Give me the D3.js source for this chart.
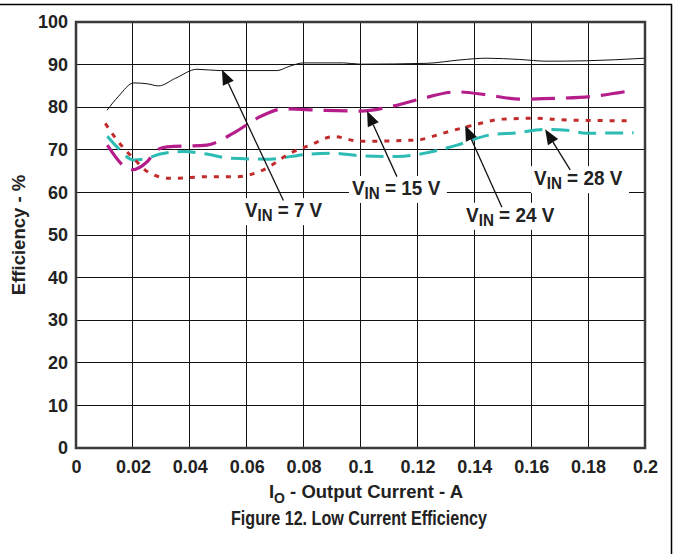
<!DOCTYPE html>
<html>
<head>
<meta charset="utf-8">
<script src="https://cdn.jsdelivr.net/npm/d3@7"></script>
<style>
  body { margin: 0; background: #fff; }
  svg text { font-family: "Liberation Sans", Arial, sans-serif; font-weight: bold; fill: #222; }
</style>
</head>
<body>
<div id="chart"></div>
<script>
// tick values
var xTicks = [0, 0.02, 0.04, 0.06, 0.08, 0.1, 0.12, 0.14, 0.16, 0.18, 0.2];
var yTicks = [0, 10, 20, 30, 40, 50, 60, 70, 80, 90, 100];

// efficiency curves, [current A, efficiency %]
var vin7 = [[0.0109, 79.3], [0.015, 82.6], [0.0203, 85.7], [0.025, 85.5], [0.029, 85.0], [0.035, 86.8],
  [0.0425, 88.9], [0.0507, 88.6], [0.0706, 88.6], [0.075, 89.6], [0.080, 90.4], [0.094, 90.4],
  [0.0999, 90.1], [0.1233, 90.3], [0.135, 91.1], [0.1444, 91.5], [0.156, 91.2], [0.1655, 90.8],
  [0.1795, 90.9], [0.2, 91.5]];
var vin15 = [[0.011, 71.1], [0.0197, 65.3], [0.025, 67.2], [0.0285, 70.0], [0.032, 70.7], [0.046, 71.1],
  [0.0553, 73.9], [0.0648, 77.8], [0.0729, 79.6], [0.0858, 79.3], [0.0999, 79.1], [0.1104, 80.1],
  [0.1198, 81.7], [0.1339, 83.6], [0.1444, 82.9], [0.156, 81.9], [0.1702, 82.1], [0.1807, 82.5],
  [0.196, 84.0]];
var vin24 = [[0.0103, 76.2], [0.0144, 72.3], [0.0202, 68.0], [0.026, 64.5], [0.0331, 63.3], [0.0472, 63.7],
  [0.0566, 63.7], [0.0659, 65.3], [0.0753, 69.2], [0.0823, 71.1], [0.0905, 73.1], [0.0999, 72.0],
  [0.1198, 72.3], [0.129, 73.9], [0.1397, 75.8], [0.150, 77.2], [0.1607, 77.4], [0.1725, 77.0],
  [0.196, 76.8]];
var vin28 = [[0.011, 73.2], [0.0144, 70.7], [0.0202, 67.6], [0.025, 68.0], [0.0296, 69.0], [0.0378, 69.6],
  [0.046, 69.0], [0.0542, 68.0], [0.0683, 67.8], [0.0753, 68.4], [0.0823, 69.0], [0.0905, 69.2],
  [0.0999, 68.6], [0.1128, 68.4], [0.1233, 69.3], [0.1339, 71.1], [0.1456, 73.5], [0.155, 74.0],
  [0.1649, 74.8], [0.1725, 74.6], [0.1795, 73.9], [0.196, 74.0]];

// labels: text value, label start [x, y] in data units, arrow tail and tip in data units
var labelNames = ["7", "15", "24", "28"];
var labelPos = [[0.0594, 54.2], [0.0970, 59.4], [0.1371, 53.1], [0.1610, 61.7]];
var arrowTail = [[0.0729, 58.1], [0.1128, 63.7], [0.1497, 56.5], [0.1737, 65.3]];
var arrowTip = [[0.0513, 88.8], [0.1023, 79.1], [0.1368, 75.7], [0.1649, 74.8]];

var W = 673, H = 554;
var margin = { left: 76, right: 28, top: 22, bottom: 106 };

var svg = d3.select("#chart").append("svg").attr("width", W).attr("height", H);

var x = d3.scaleLinear().domain([0, 0.2]).range([margin.left, W - margin.right]);
var y = d3.scaleLinear().domain([0, 100]).range([H - margin.bottom, margin.top]);

// outer frame (top and right edges)
svg.append("path")
  .attr("d", "M0,4.5H671.5V554")
  .attr("fill", "none").attr("stroke", "#000").attr("stroke-width", 1.5);

// grid
var grid = svg.append("g").attr("stroke", "#111").attr("stroke-width", 1).attr("shape-rendering", "crispEdges");
grid.selectAll(".vx").data(xTicks.slice(1, -1)).enter().append("line")
  .attr("x1", function(d) { return x(d); }).attr("x2", function(d) { return x(d); })
  .attr("y1", y(100)).attr("y2", y(0));
grid.selectAll(".hy").data(yTicks.slice(1, -1)).enter().append("line")
  .attr("x1", x(0)).attr("x2", x(0.2))
  .attr("y1", function(d) { return y(d); }).attr("y2", function(d) { return y(d); });

// tick labels via axes
var xAxis = d3.axisBottom(x).tickValues(xTicks).tickSize(0).tickPadding(12)
  .tickFormat(function(d) { return d === 0 ? "0" : String(+d.toFixed(2)); });
var yAxis = d3.axisLeft(y).tickValues(yTicks).tickSize(0).tickPadding(8);

var gx = svg.append("g").attr("transform", "translate(0," + y(0) + ")").call(xAxis);
var gy = svg.append("g").attr("transform", "translate(" + x(0) + ",0)").call(yAxis);
[gx, gy].forEach(function(g) {
  g.select(".domain").remove();
  g.selectAll("text").attr("font-size", 18).attr("font-family", "Liberation Sans, Arial, sans-serif")
    .attr("font-weight", "bold").attr("fill", "#222");
});

// curves
var line = d3.line().x(function(d) { return x(d[0]); }).y(function(d) { return y(d[1]); })
  .curve(d3.curveMonotoneX);

svg.append("clipPath").attr("id", "plotclip").append("rect")
  .attr("x", x(0)).attr("y", y(100)).attr("width", x(0.2) - x(0)).attr("height", y(0) - y(100));

var series = [
  { data: vin28, color: "#2cbcb4", width: 3, dash: "18,9" },
  { data: vin24, color: "#c22b2b", width: 3, dash: "5,7" },
  { data: vin15, color: "#b41d8a", width: 3.2, dash: "24,11" },
  { data: vin7, color: "#111", width: 1, dash: null }
];
svg.append("g").attr("clip-path", "url(#plotclip)").selectAll("path").data(series).enter().append("path")
  .attr("d", function(d) { return line(d.data); })
  .attr("fill", "none")
  .attr("stroke", function(d) { return d.color; })
  .attr("stroke-width", function(d) { return d.width; })
  .attr("stroke-dasharray", function(d) { return d.dash; });

// label boxes
var labels = svg.append("g");
labelNames.forEach(function(name, i) {
  var g = labels.append("g").attr("transform", "translate(" + x(labelPos[i][0]) + "," + y(labelPos[i][1]) + ")");
  var t = g.append("text").attr("font-size", 20);
  t.append("tspan").text("V");
  t.append("tspan").attr("font-size", 16).attr("dy", 4).text("IN");
  t.append("tspan").attr("dy", -4).text(" = " + name + " V");
  var bb = t.node().getBBox();
  t.attr("transform", "scale(" + ((bb.width - 5) / bb.width) + ",1)");
  g.insert("rect", "text").attr("x", bb.x - 3).attr("y", bb.y - 1)
    .attr("width", bb.width + 4).attr("height", bb.height + 2).attr("fill", "#fff");
});

// arrows
var arrows = svg.append("g");
arrowTip.forEach(function(tip, i) {
  var x0 = x(arrowTail[i][0]), y0 = y(arrowTail[i][1]);
  var x1 = x(tip[0]), y1 = y(tip[1]);
  var ang = Math.atan2(y1 - y0, x1 - x0);
  var len = 15, half = 6;
  var bx = x1 - len * Math.cos(ang), by = y1 - len * Math.sin(ang);
  arrows.append("line").attr("x1", x0).attr("y1", y0).attr("x2", bx).attr("y2", by)
    .attr("stroke", "#111").attr("stroke-width", 1.3);
  var px = -Math.sin(ang) * half, py = Math.cos(ang) * half;
  arrows.append("path")
    .attr("d", "M" + x1 + "," + y1 + "L" + (bx + px) + "," + (by + py) + "L" + (bx - px) + "," + (by - py) + "Z")
    .attr("fill", "#111");
});

// plot border
svg.append("rect")
  .attr("x", x(0)).attr("y", y(100)).attr("width", x(0.2) - x(0)).attr("height", y(0) - y(100))
  .attr("fill", "none").attr("stroke", "#3a3a3a").attr("stroke-width", 2.5);

// axis titles
var xt = svg.append("text").attr("x", 366).attr("y", 498).attr("text-anchor", "middle").attr("font-size", 18.5);
xt.append("tspan").text("I");
xt.append("tspan").attr("font-size", 14).attr("dy", 5).text("O");
xt.append("tspan").attr("dy", -5).text(" - Output Current - A");

svg.append("text").attr("transform", "translate(25,235) rotate(-90)").attr("text-anchor", "middle")
  .attr("font-size", 18.5).text("Efficiency - %");

svg.append("text").attr("x", 231).attr("y", 524.5).attr("font-size", 20)
  .attr("textLength", 256).attr("lengthAdjust", "spacingAndGlyphs")
  .text("Figure 12. Low Current Efficiency");
</script>
</body>
</html>
